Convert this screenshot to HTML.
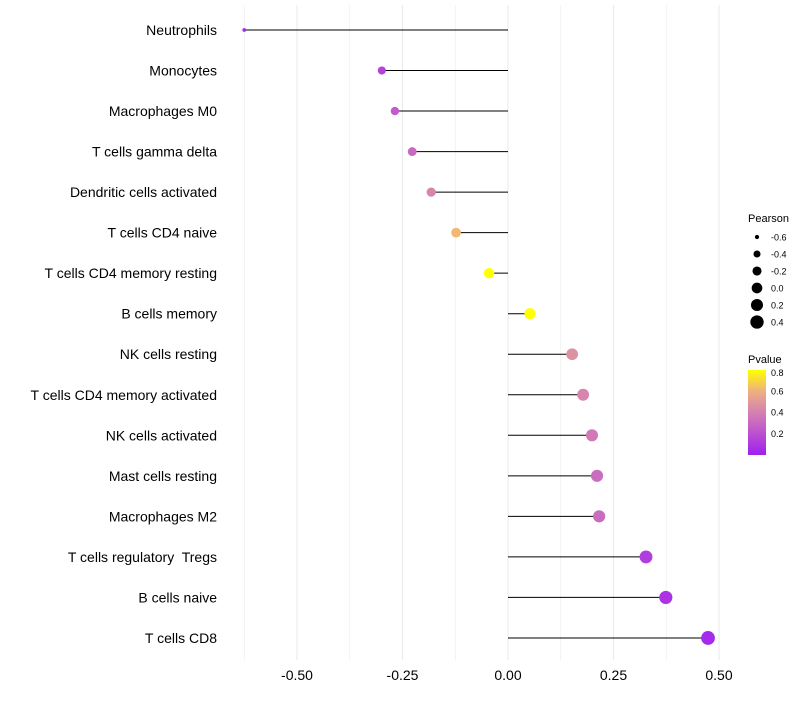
<!DOCTYPE html>
<html><head><meta charset="utf-8"><style>
body{margin:0;background:#fff;font-family:"Liberation Sans",sans-serif}
text{white-space:pre}
</style></head><body>
<svg id="c" width="800" height="700" xmlns="http://www.w3.org/2000/svg"></svg>
<script>
const cells=["Neutrophils","Monocytes","Macrophages M0","T cells gamma delta","Dendritic cells activated","T cells CD4 naive","T cells CD4 memory resting","B cells memory","NK cells resting","T cells CD4 memory activated","NK cells activated","Mast cells resting","Macrophages M2","T cells regulatory  Tregs","B cells naive","T cells CD8"];
const pearson=[-0.625,-0.299,-0.268,-0.227,-0.182,-0.123,-0.045,0.052,0.152,0.178,0.199,0.211,0.216,0.327,0.374,0.474];
const pvalue=[0.05,0.15,0.25,0.3,0.42,0.62,0.82,0.82,0.47,0.42,0.37,0.32,0.32,0.12,0.08,0.04];
const xTicks=[-0.5,-0.25,0,0.25,0.5];
const xTickLabels=["-0.50","-0.25","0.00","0.25","0.50"];
const sizeLegend=[-0.6,-0.4,-0.2,0.0,0.2,0.4];
const colorTicks=[0.2,0.4,0.6,0.8];
const NS="http://www.w3.org/2000/svg";
const svg=document.getElementById('c');
function el(t,a,p){const e=document.createElementNS(NS,t);for(const k in a)e.setAttribute(k,a[k]);(p||svg).appendChild(e);return e;}
const xS=v=>508+v*422;
const yS=i=>30+i*40.53;
const rS=v=>Math.sqrt(Math.max(3.5,4.5+40*(v+0.6)));
function col(p){const stops=[[0,[160,32,240]],[0.4,[213,128,178]],[0.6,[238,176,128]],[0.8,[255,255,0]]];
 p=Math.max(0,Math.min(0.8,p));for(let i=0;i<stops.length-1;i++){const[a,ca]=stops[i],[b,cb]=stops[i+1];if(p<=b){const t=(p-a)/(b-a);return`rgb(${ca.map((c,j)=>Math.round(c+(cb[j]-c)*t)).join(',')})`;}}return'#ff0';}
for(let v=-0.625;v<=0.5001;v+=0.125){const g=el('line',{x1:xS(v),x2:xS(v),y1:5,y2:660,stroke:'#ebebeb','stroke-width':Math.abs(v*8%2)<0.01?1.1:0.6});
}
xTicks.forEach((v,i)=>{const t=el('text',{x:xS(v),y:680,'text-anchor':'middle','font-size':14,fill:'#000'});t.textContent=xTickLabels[i];
});
cells.forEach((c,i)=>{const y=yS(i);
 const lb=el('text',{x:217,y:y+5,'text-anchor':'end','font-size':14,fill:'#000'});lb.textContent=c;
 
 const ln=el('line',{x1:xS(0),x2:xS(pearson[i]),y1:y,y2:y,stroke:'#000','stroke-width':1});
 
 const pt=el('circle',{cx:xS(pearson[i]),cy:y,r:rS(pearson[i]),fill:col(pvalue[i])});
 
});
const st=el('text',{x:748,y:222,'font-size':11});st.textContent='Pearson';

sizeLegend.forEach((v,i)=>{const y=237+i*17;
 const d=el('circle',{cx:757,cy:y,r:rS(v),fill:'#000'});
 const t=el('text',{x:771,y:y+3.5,'font-size':9});t.textContent=v.toFixed(1);});
const ct=el('text',{x:748,y:363,'font-size':11});ct.textContent='Pvalue';

const defs=el('defs',{});const gr=el('linearGradient',{id:'g',x1:0,y1:1,x2:0,y2:0},defs);
[0,0.2,0.4,0.6,0.8].forEach(p=>el('stop',{offset:p/0.8,'stop-color':col(p)},gr));
const cb=el('rect',{x:748,y:370,width:18,height:85,fill:'url(#g)'});
const cY=p=>455-p/0.8*85;
colorTicks.forEach(p=>{const y=Math.max(cY(p),373);
 const t=el('text',{x:771,y:y+3,'font-size':9});t.textContent=p.toFixed(1);});
</script>
</body></html>
